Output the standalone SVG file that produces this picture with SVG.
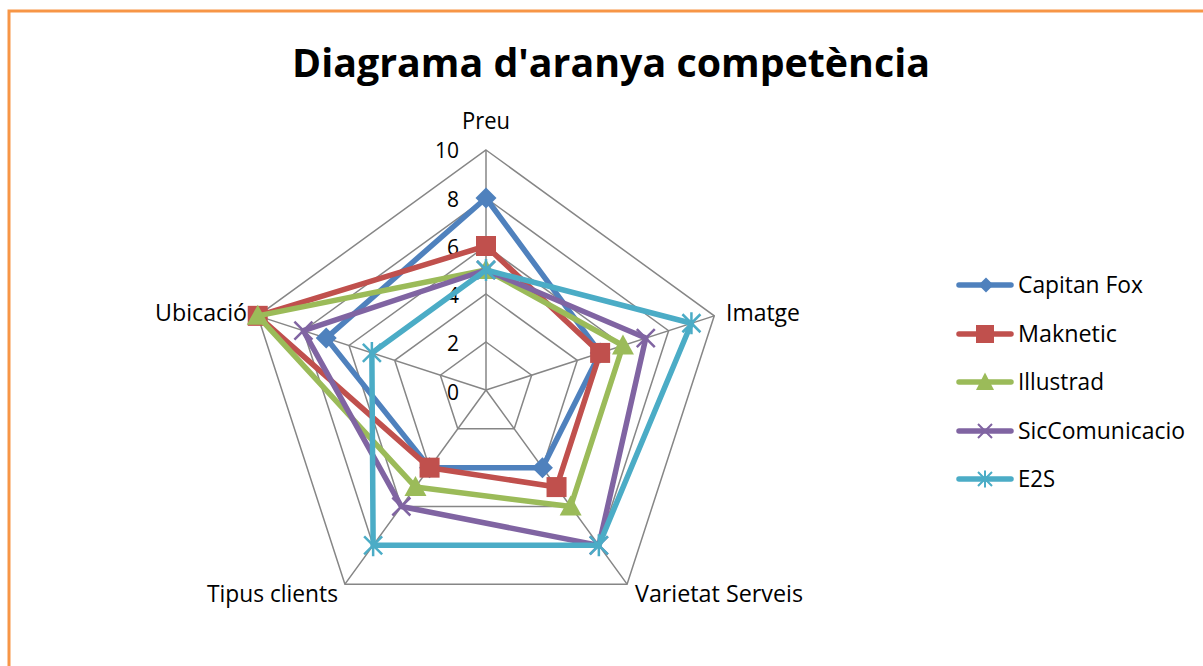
<svg xmlns="http://www.w3.org/2000/svg" xmlns:xlink="http://www.w3.org/1999/xlink" width="1203" height="666" viewBox="0 0 1203 666">
<style>
.grid{fill:none;stroke:#868686;stroke-width:1.5}
.ser{fill:none;stroke-width:5.5;stroke-linejoin:round;stroke-linecap:round}
.lbl{font-family:"Open Sans","Liberation Sans",sans-serif;font-size:23px;fill:#000}
.tick{font-family:"Open Sans","Liberation Sans",sans-serif;font-size:21px;fill:#000;text-anchor:end}
.title{font-family:"Open Sans","Liberation Sans",sans-serif;font-size:40px;font-weight:bold;fill:#000}
</style>
<defs>
<path id="mDia" d="M0,-10.5 L10.5,0 L0,10.5 L-10.5,0 Z" fill="#4F81BD"/>
<rect id="mSq" x="-10" y="-10" width="20" height="20" fill="#C0504D"/>
<path id="mTri" d="M0,-11 L11,9 L-11,9 Z" fill="#9BBB59"/>
<path id="mX" d="M-9,-9 L9,9 M-9,9 L9,-9" stroke="#8064A2" stroke-width="2.5" fill="none"/>
<path id="mStar" d="M-9,-9 L9,9 M-9,9 L9,-9 M0,-11 L0,11" stroke="#4BACC6" stroke-width="2.5" fill="none"/>
<path id="lDia" d="M0,-7.5 L7.5,0 L0,7.5 L-7.5,0 Z" fill="#4F81BD"/>
<rect id="lSq" x="-9" y="-9" width="18" height="18" fill="#C0504D"/>
<path id="lTri" d="M0,-9.5 L9,8 L-9,8 Z" fill="#9BBB59"/>
<path id="lX" d="M-7,-7 L7,7 M-7,7 L7,-7" stroke="#8064A2" stroke-width="2" fill="none"/>
<path id="lStar" d="M-7,-7 L7,7 M-7,7 L7,-7 M0,-8.5 L0,8.5" stroke="#4BACC6" stroke-width="2" fill="none"/>
</defs>
<rect width="1203" height="666" fill="#fff"/>
<rect x="9" y="11" width="1220" height="700" fill="none" stroke="#F79646" stroke-width="3"/>
<text class="title" x="292" y="77" textLength="638" lengthAdjust="spacingAndGlyphs">Diagrama d'aranya competència</text>
<g id="grid">
<polygon class="grid" points="486,342 531.65,375.17 514.21,428.83 457.79,428.83 440.35,375.17"/>
<polygon class="grid" points="486,294 577.31,360.34 542.43,467.66 429.57,467.66 394.69,360.34"/>
<polygon class="grid" points="486,246 622.96,345.5 570.64,506.5 401.36,506.5 349.04,345.5"/>
<polygon class="grid" points="486,198 668.61,330.67 598.86,545.33 373.14,545.33 303.39,330.67"/>
<polygon class="grid" points="486,150 714.26,315.84 627.07,584.16 344.93,584.16 257.74,315.84"/>
<path class="grid" d="M486,390 L486,150 M486,390 L714.26,315.84 M486,390 L627.07,584.16 M486,390 L344.93,584.16 M486,390 L257.74,315.84"/>
</g>
<g id="ticks">
<text class="tick" x="459" y="400">0</text>
<text class="tick" x="459" y="351">2</text>
<text class="tick" x="459" y="303">4</text>
<text class="tick" x="459" y="255">6</text>
<text class="tick" x="459" y="207">8</text>
<text class="tick" x="459" y="158">10</text>
</g>
<g id="axis-labels">
<text class="lbl" x="462" y="129" textLength="48" lengthAdjust="spacingAndGlyphs">Preu</text>
<text class="lbl" x="726" y="321" textLength="74" lengthAdjust="spacingAndGlyphs">Imatge</text>
<text class="lbl" x="635" y="602" textLength="168" lengthAdjust="spacingAndGlyphs">Varietat Serveis</text>
<text class="lbl" x="207" y="602" textLength="131" lengthAdjust="spacingAndGlyphs">Tipus clients</text>
<text class="lbl" x="155" y="321" textLength="92" lengthAdjust="spacingAndGlyphs">Ubicació</text>
</g>
<g id="connectors">
<g id="capitan-fox">
<polygon class="ser" stroke="#4F81BD" points="486,198 600.13,352.92 542.43,467.66 429.57,467.66 326.22,338.09"/>
<use xlink:href="#mDia" x="486" y="198"/><use xlink:href="#mDia" x="600.13" y="352.92"/><use xlink:href="#mDia" x="542.43" y="467.66"/><use xlink:href="#mDia" x="429.57" y="467.66"/><use xlink:href="#mDia" x="326.22" y="338.09"/>
</g>
<g id="maknetic">
<polygon class="ser" stroke="#C0504D" points="486,246 600.13,352.92 556.54,487.08 429.57,467.66 257.74,315.84"/>
<use xlink:href="#mSq" x="486" y="246"/><use xlink:href="#mSq" x="600.13" y="352.92"/><use xlink:href="#mSq" x="556.54" y="487.08"/><use xlink:href="#mSq" x="429.57" y="467.66"/><use xlink:href="#mSq" x="257.74" y="315.84"/>
</g>
<g id="illustrad">
<polygon class="ser" stroke="#9BBB59" points="486,270 622.96,345.5 570.64,506.5 415.46,487.08 257.74,315.84"/>
<use xlink:href="#mTri" x="486" y="270"/><use xlink:href="#mTri" x="622.96" y="345.5"/><use xlink:href="#mTri" x="570.64" y="506.5"/><use xlink:href="#mTri" x="415.46" y="487.08"/><use xlink:href="#mTri" x="257.74" y="315.84"/>
</g>
<g id="siccomunicacio">
<polygon class="ser" stroke="#8064A2" points="486,270 645.78,338.09 598.86,545.33 401.36,506.5 303.39,330.67"/>
<use xlink:href="#mX" x="486" y="270"/><use xlink:href="#mX" x="645.78" y="338.09"/><use xlink:href="#mX" x="598.86" y="545.33"/><use xlink:href="#mX" x="401.36" y="506.5"/><use xlink:href="#mX" x="303.39" y="330.67"/>
</g>
<g id="e2s">
<polygon class="ser" stroke="#4BACC6" points="486,270 691.43,323.25 598.86,545.33 373.14,545.33 371.87,352.92"/>
<use xlink:href="#mStar" x="486" y="270"/><use xlink:href="#mStar" x="691.43" y="323.25"/><use xlink:href="#mStar" x="598.86" y="545.33"/><use xlink:href="#mStar" x="373.14" y="545.33"/><use xlink:href="#mStar" x="371.87" y="352.92"/>
</g>
</g>
<g id="legend">
<g id="leg-capitan"><path class="ser" stroke="#4F81BD" d="M959,285 L1011,285"/><use xlink:href="#lDia" x="986" y="285"/><text class="lbl" x="1018" y="293" textLength="125" lengthAdjust="spacingAndGlyphs">Capitan Fox</text></g>
<g id="leg-maknetic"><path class="ser" stroke="#C0504D" d="M959,334 L1011,334"/><use xlink:href="#lSq" x="985" y="334"/><text class="lbl" x="1018" y="342" textLength="99" lengthAdjust="spacingAndGlyphs">Maknetic</text></g>
<g id="leg-illustrad"><path class="ser" stroke="#9BBB59" d="M959,382 L1011,382"/><use xlink:href="#lTri" x="985" y="382"/><text class="lbl" x="1018" y="390" textLength="86" lengthAdjust="spacingAndGlyphs">Illustrad</text></g>
<g id="leg-sic"><path class="ser" stroke="#8064A2" d="M959,431 L1011,431"/><use xlink:href="#lX" x="985" y="431"/><text class="lbl" x="1018" y="439" textLength="167" lengthAdjust="spacingAndGlyphs">SicComunicacio</text></g>
<g id="leg-e2s"><path class="ser" stroke="#4BACC6" d="M959,479 L1011,479"/><use xlink:href="#lStar" x="985" y="479"/><text class="lbl" x="1018" y="487" textLength="37" lengthAdjust="spacingAndGlyphs">E2S</text></g>
</g>
</svg>
